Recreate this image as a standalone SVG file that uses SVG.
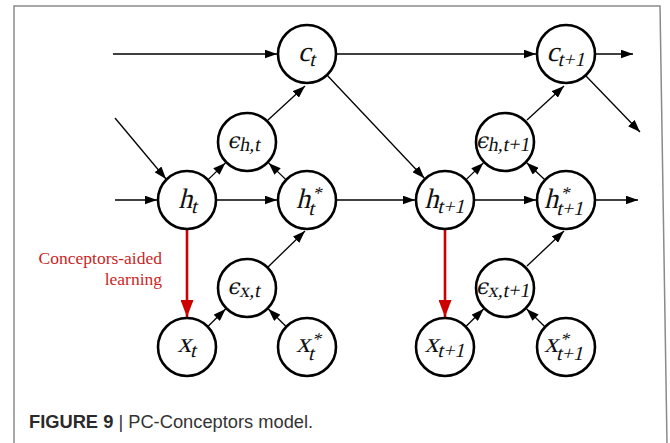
<svg xmlns="http://www.w3.org/2000/svg" width="670" height="443" viewBox="0 0 670 443">
<style>
.frame{fill:none;stroke:#8a8a8a;stroke-width:1.5}
.node circle{fill:#fff;stroke:#000;stroke-width:2.6}
.m{font-family:"Liberation Serif","Times New Roman",serif;font-size:28px;fill:#111}
.s{font-size:20px}
.st{font-size:18px}
.e{font-family:"DejaVu Serif","Liberation Serif",serif;font-size:22px}
#edges line{stroke:#000;stroke-width:1.3;marker-end:url(#ah)}
#edges line.red{stroke:#cc0000;stroke-width:2.6;marker-end:url(#ahr)}
.lab{font-family:"Liberation Serif","Times New Roman",serif;font-size:17.5px;fill:#cc1f1f;text-anchor:end}
.cap{font-family:"Liberation Sans",Arial,sans-serif;font-size:18.3px;fill:#333}
</style>
<defs>
<marker id="ah" markerUnits="userSpaceOnUse" markerWidth="13" markerHeight="9" refX="12.5" refY="4.5" orient="auto"><path d="M0,0 L12.5,4.5 L0,9 z" fill="#000"/></marker>
<marker id="ahr" markerUnits="userSpaceOnUse" markerWidth="18" markerHeight="13" refX="17" refY="6.5" orient="auto"><path d="M0,0 L17,6.5 L0,13 z" fill="#cc0000"/></marker>
</defs>
<rect width="670" height="443" fill="#fff"/>
<path class="frame" d="M14,443 V6 H660 L667,443"/>
<g id="edges">
<line x1="113" y1="54" x2="277" y2="54"/>
<line x1="337" y1="54" x2="536" y2="54"/>
<line x1="596" y1="54" x2="633" y2="54"/>
<line x1="586" y1="76" x2="640" y2="132"/>
<line x1="115" y1="118" x2="166" y2="179"/>
<line x1="115" y1="200" x2="157" y2="200"/>
<line x1="217" y1="200" x2="277" y2="200"/>
<line x1="208.6" y1="179.1" x2="225.4" y2="162.9"/>
<line x1="285.4" y1="179.1" x2="268.6" y2="162.9"/>
<line x1="268" y1="120" x2="305" y2="86"/>
<line x1="327.6" y1="75.8" x2="424.4" y2="178.2"/>
<line x1="337" y1="200" x2="415" y2="200"/>
<line x1="475" y1="200" x2="536" y2="200"/>
<line x1="596" y1="200" x2="638" y2="200"/>
<line x1="466.6" y1="179.1" x2="483.4" y2="162.9"/>
<line x1="544.3" y1="179.3" x2="526.7" y2="162.7"/>
<line x1="527" y1="120" x2="564" y2="86"/>
<line class="red" x1="187" y1="230" x2="187" y2="317"/>
<line class="red" x1="445" y1="230" x2="445" y2="317"/>
<line x1="208.4" y1="326" x2="225.6" y2="309"/>
<line x1="285.6" y1="326" x2="268.4" y2="309"/>
<line x1="268" y1="267" x2="305" y2="231"/>
<line x1="466.4" y1="326" x2="483.6" y2="309"/>
<line x1="544.4" y1="326.2" x2="526.6" y2="308.9"/>
<line x1="527" y1="266" x2="564" y2="231"/>
</g>
<g id="c_t" class="node"><circle cx="307" cy="54" r="29"/><text class="m" transform="translate(307,61) skewX(-14)" text-anchor="middle">c<tspan class="s" dy="5">t</tspan></text></g>
<g id="c_t1" class="node"><circle cx="566" cy="54" r="29"/><text class="m" transform="translate(566,61) skewX(-14)" text-anchor="middle">c<tspan class="s" dy="5">t+1</tspan></text></g>
<g id="eps_h_t" class="node"><circle cx="247" cy="142" r="29"/><text class="m" transform="translate(244,148) skewX(-10)" text-anchor="middle"><tspan class="e">ϵ</tspan><tspan class="s" dy="3">h,t</tspan></text></g>
<g id="eps_h_t1" class="node"><circle cx="505" cy="142" r="29"/><text class="m" transform="translate(503,148) skewX(-10)" text-anchor="middle"><tspan class="e">ϵ</tspan><tspan class="s" dy="3">h,t+1</tspan></text></g>
<g id="h_t" class="node"><circle cx="187" cy="200" r="29"/><text class="m" transform="translate(188,208) skewX(-14)" text-anchor="middle">h<tspan class="s" dy="5">t</tspan></text></g>
<g id="hs_t" class="node"><circle cx="307" cy="200" r="29"/><text class="m" transform="translate(296,208) skewX(-14)">h<tspan class="st" dy="-9">*</tspan><tspan class="s" x="14" dy="16">t</tspan></text></g>
<g id="h_t1" class="node"><circle cx="445" cy="200" r="29"/><text class="m" transform="translate(445,208) skewX(-14)" text-anchor="middle">h<tspan class="s" dy="5">t+1</tspan></text></g>
<g id="hs_t1" class="node"><circle cx="566" cy="200" r="29"/><text class="m" transform="translate(544,208) skewX(-14)">h<tspan class="st" dy="-9">*</tspan><tspan class="s" x="14" dy="16">t+1</tspan></text></g>
<g id="eps_x_t" class="node"><circle cx="247" cy="288" r="29"/><text class="m" transform="translate(244,294) skewX(-10)" text-anchor="middle"><tspan class="e">ϵ</tspan><tspan class="s" dy="3">x,t</tspan></text></g>
<g id="eps_x_t1" class="node"><circle cx="505" cy="288" r="29"/><text class="m" transform="translate(503,294) skewX(-10)" text-anchor="middle"><tspan class="e">ϵ</tspan><tspan class="s" dy="3">x,t+1</tspan></text></g>
<g id="x_t" class="node"><circle cx="187" cy="347" r="29"/><text class="m" transform="translate(187,352) skewX(-14)" text-anchor="middle">x<tspan class="s" dy="5">t</tspan></text></g>
<g id="xs_t" class="node"><circle cx="307" cy="347" r="29"/><text class="m" transform="translate(296,352) skewX(-14)">x<tspan class="st" dy="-7">*</tspan><tspan class="s" x="14" dy="15">t</tspan></text></g>
<g id="x_t1" class="node"><circle cx="445" cy="347" r="29"/><text class="m" transform="translate(445,352) skewX(-14)" text-anchor="middle">x<tspan class="s" dy="5">t+1</tspan></text></g>
<g id="xs_t1" class="node"><circle cx="566" cy="347" r="29"/><text class="m" transform="translate(544,352) skewX(-14)">x<tspan class="st" dy="-7">*</tspan><tspan class="s" x="14" dy="15">t+1</tspan></text></g>
<g id="label"><text class="lab" x="162" y="264">Conceptors-aided</text><text class="lab" x="162" y="285">learning</text></g>
<text class="cap" x="29" y="428"><tspan font-weight="bold" fill="#2a2a2a">FIGURE 9</tspan> | PC-Conceptors model.</text>
</svg>
